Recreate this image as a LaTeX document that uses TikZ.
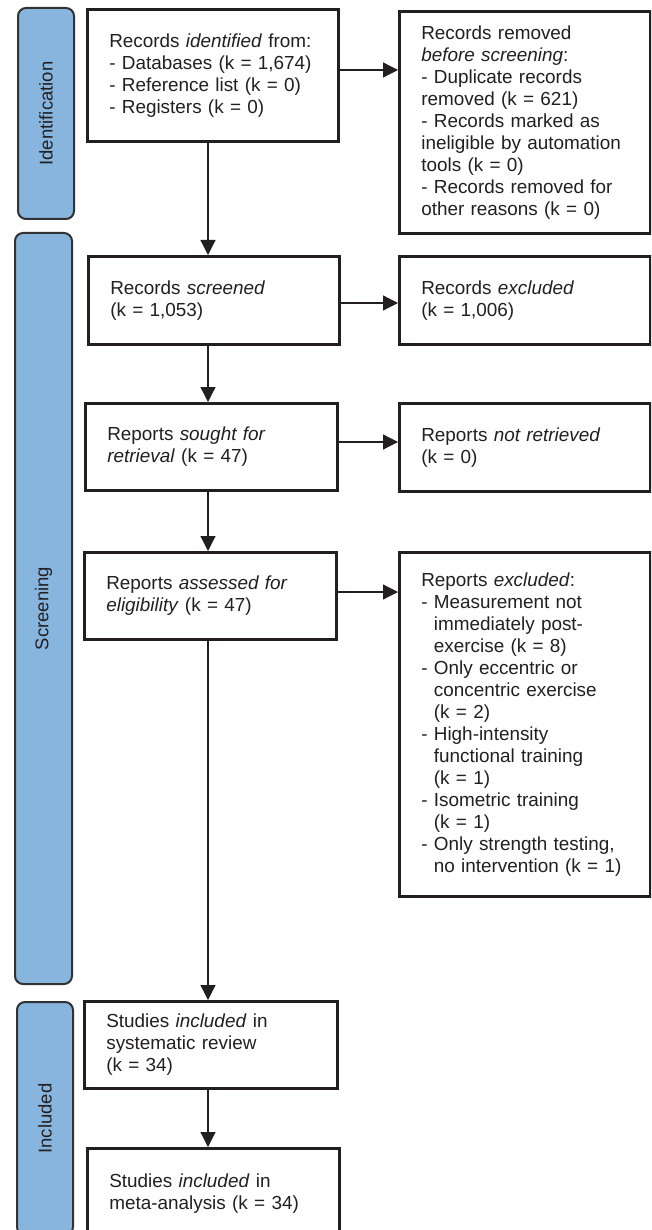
\documentclass[tikz,border=0pt]{standalone}
\usepackage{fontspec}
\setmainfont{Liberation Sans}
\usetikzlibrary{arrows.meta}
\definecolor{barblue}{RGB}{135,181,221}
\definecolor{edgecol}{RGB}{35,31,32}
\definecolor{baredge}{RGB}{50,50,50}
\newcommand{\hangsp}{\hphantom{-\ }}
\begin{document}
\begin{tikzpicture}[x=1pt,y=-1pt,
  box/.style={draw=edgecol, line width=2.6pt, fill=white, anchor=north west,
    align=left, inner sep=0pt, font={\fontsize{18.9}{22}\selectfont}, text=edgecol},
  phasebar/.style={draw=baredge, line width=2pt, fill=barblue, rounded corners=8pt,
    anchor=north west, inner sep=0pt},
  phaselabel/.style={rotate=90, font={\fontsize{18.5}{22}\selectfont}, text=edgecol, inner sep=0pt},
  arr/.style={draw=edgecol, line width=1.2pt, -{Triangle[length=15pt,width=15pt]}}
]
\clip (0,0) rectangle (651,1230);
\fill[white] (0,0) rectangle (651,1230);

% phase bars
\node[phasebar, minimum width=56pt, minimum height=211pt] (barI) at (17,7) {};
\node[phaselabel] (labI) at (barI.center) {Identification};
\node[phasebar, minimum width=57pt, minimum height=751pt] (barS) at (14,232) {};
\node[phaselabel] (labS) at (barS.center) {Screening};
\node[phasebar, minimum width=56pt, minimum height=233pt] (barN) at (16,1001) {};
\node[phaselabel] (labN) at (barN.center) {Included};

% boxes
\node[box, minimum width=251pt, minimum height=132pt, text width=207pt] (id) at (86,8)
  {Records \textit{identified} from:\\- Databases (k = 1,674)\\- Reference list (k = 0)\\- Registers (k = 0)};
\node[box, minimum width=251pt, minimum height=222pt, text width=207pt] (rem) at (398,10)
  {Records removed\\\textit{before screening}:\\- Duplicate records\\removed (k = 621)\\- Records marked as\\ineligible by automation\\tools (k = 0)\\- Records removed for\\other reasons (k = 0)};
\node[box, minimum width=251pt, minimum height=88pt, text width=207pt] (scr) at (87,255)
  {Records \textit{screened}\\(k = 1,053)};
\node[box, minimum width=251pt, minimum height=88pt, text width=207pt] (exc) at (398,255)
  {Records \textit{excluded}\\(k = 1,006)};
\node[box, minimum width=252pt, minimum height=87pt, text width=208pt] (sought) at (84,402)
  {Reports \textit{sought for}\\\textit{retrieval} (k = 47)};
\node[box, minimum width=251pt, minimum height=88pt, text width=207pt] (nret) at (398,402)
  {Reports \textit{not retrieved}\\(k = 0)};
\node[box, minimum width=252pt, minimum height=87pt, text width=208pt] (ass) at (83,551)
  {Reports \textit{assessed for}\\\textit{eligibility} (k = 47)};
\node[box, minimum width=251pt, minimum height=344pt, text width=207pt] (rexc) at (398,551)
  {Reports \textit{excluded}:\\- Measurement not\\\hangsp immediately post-\\\hangsp exercise (k = 8)\\- Only eccentric or\\\hangsp concentric exercise\\\hangsp (k = 2)\\- High-intensity\\\hangsp functional training\\\hangsp (k = 1)\\- Isometric training\\\hangsp (k = 1)\\- Only strength testing,\\\hangsp no intervention (k = 1)};
\node[box, minimum width=253pt, minimum height=87pt, text width=209pt] (sys) at (83,1000)
  {Studies \textit{included} in\\systematic review\\(k = 34)};
\node[box, minimum width=252pt, minimum height=91pt, text width=208pt] (meta) at (86,1147)
  {Studies \textit{included} in\\meta-analysis (k = 34)};

% guide coordinates
\coordinate (sp) at (208,0);
\coordinate (h1) at (0,70);
\coordinate (h2) at (0,303);
\coordinate (h3) at (0,442);
\coordinate (h4) at (0,592);

% vertical arrows
\draw[arr] (id.south -| sp) -- (scr.north -| sp);
\draw[arr] (scr.south -| sp) -- (sought.north -| sp);
\draw[arr] (sought.south -| sp) -- (ass.north -| sp);
\draw[arr] (ass.south -| sp) -- (sys.north -| sp);
\draw[arr] (sys.south -| sp) -- (meta.north -| sp);

% horizontal arrows
\draw[arr] (id.east |- h1) -- (rem.west |- h1);
\draw[arr] (scr.east |- h2) -- (exc.west |- h2);
\draw[arr] (sought.east |- h3) -- (nret.west |- h3);
\draw[arr] (ass.east |- h4) -- (rexc.west |- h4);
\end{tikzpicture}
\end{document}
